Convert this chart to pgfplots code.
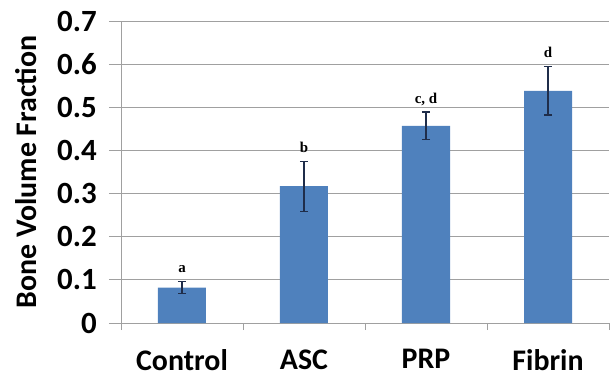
\documentclass[border=0pt]{standalone}
\usepackage{fontspec}
\setmainfont{Carlito}
\newfontfamily\serifb{Liberation Serif}
\usepackage{pgfplots}
\pgfplotsset{compat=1.18}
\definecolor{barblue}{HTML}{4F81BD}
\definecolor{gridgray}{HTML}{A0A0A0}
\definecolor{errc}{HTML}{1F2D4A}
\begin{document}
\begin{tikzpicture}
\path[use as bounding box] (-121bp,-55bp) rectangle (490bp,323bp);
\begin{axis}[
  at={(0,0)}, anchor=south west,
  scale only axis, width=488bp, height=302bp,
  xmin=-0.5, xmax=3.5, ymin=0, ymax=0.7,
  axis x line=bottom, axis y line=left,
  axis line style={gridgray, line width=0.9bp, -},
  tick style={gridgray, line width=0.9bp},
  tick align=outside,
  major tick length=12bp, minor tick length=7bp,
  xtick={0,1,2,3},
  xticklabels={Control,ASC,PRP,Fibrin},
  major x tick style={draw=none},
  minor xtick={-0.5,0.5,1.5,2.5,3.5},
  ytick={0,0.1,0.2,0.3,0.4,0.5,0.6,0.7},
  yticklabels={0,0.1,0.2,0.3,0.4,0.5,0.6,0.7},
  ymajorgrids, grid style={gridgray, line width=0.9bp},
  /pgf/number format/assume math mode=true,
  xticklabel style={font=\bfseries\fontsize{30}{30}\selectfont, yshift=-11bp},
  yticklabel style={font=\bfseries\fontsize{31}{31}\selectfont, inner xsep=12bp},
  ylabel={Bone Volume Fraction},
  every axis y label/.style={at={(axis description cs:-0.1946,0.5)}, rotate=90, anchor=center, font=\bfseries\fontsize{30}{30}\selectfont},
  clip=false,
]
\addplot[ybar, bar width=48bp, fill=barblue, draw=none,
  error bars/.cd, y dir=both, y explicit,
  error bar style={errc, line width=1.1bp},
  error mark options={rotate=90, mark size=4bp, errc, line width=1.1bp}]
  table[x=x, y=y, y error=e] {
x y e
0 0.082 0.014
1 0.317 0.058
2 0.457 0.032
3 0.538 0.056
};
\addplot[only marks, mark=none, nodes near coords, point meta=explicit symbolic,
  nodes near coords style={font=\serifb\bfseries\fontsize{15}{15}\selectfont, anchor=base, yshift=9bp, text=black}]
  table[x=x, y=y, meta=lab] {
x y lab
0 0.096 a
1 0.375 b
2 0.489 {c, d}
3 0.594 d
};
\end{axis}
\end{tikzpicture}
\end{document}
